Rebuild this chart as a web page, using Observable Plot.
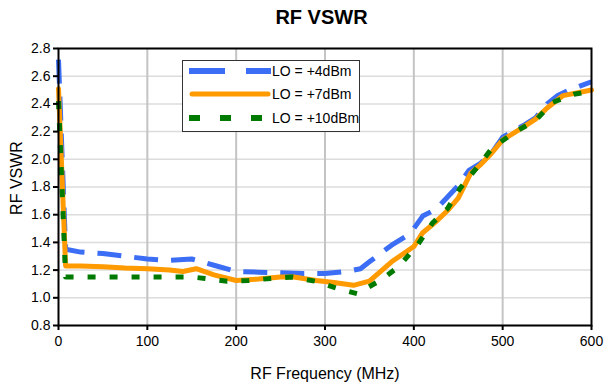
<!DOCTYPE html>
<html>
<head>
<meta charset="utf-8">
<script src="https://cdn.jsdelivr.net/npm/d3@7"></script>
<script src="https://cdn.jsdelivr.net/npm/@observablehq/plot@0.6"></script>
<style>
  html, body { margin: 0; padding: 0; background: #fff; }
  body { width: 605px; height: 385px; overflow: hidden; font-family: "Liberation Sans", Arial, sans-serif; }
  #wrap { position: relative; width: 605px; height: 385px; }
  #title { height: 40px; box-sizing: border-box; padding: 6px 14px 0 52px; text-align: center; font-weight: bold; font-size: 20px; line-height: 22px; color: #000; }
  #chart svg { display: block; font-family: "Liberation Sans", Arial, sans-serif; }
  #legend { position: absolute; left: 182px; top: 60px; width: 178px; height: 72px; box-sizing: border-box; border: 1px solid #333; background: #fff; }
  .row { position: absolute; left: 6px; height: 20px; display: flex; align-items: center; font-size: 14px; color: #000; white-space: nowrap; }
  .row svg { display: block; margin-right: 1px; }
</style>
</head>
<body>
<div id="wrap">
  <div id="title">RF VSWR</div>
  <div id="chart"></div>
  <div id="legend"></div>
</div>
<script>
// LO = +4dBm
const freq4 = [0, 8, 25, 50, 75, 100, 125, 150, 175, 200, 225, 250, 275, 300, 325, 340, 350, 375, 390, 400, 410, 425, 450, 462, 475, 487, 500, 525, 537, 550, 562, 575, 600];
const vswr4 = [2.72, 1.35, 1.33, 1.32, 1.30, 1.28, 1.27, 1.28, 1.235, 1.19, 1.185, 1.18, 1.175, 1.175, 1.19, 1.21, 1.26, 1.38, 1.44, 1.50, 1.59, 1.64, 1.81, 1.92, 1.97, 2.04, 2.16, 2.25, 2.30, 2.40, 2.46, 2.50, 2.56];
// LO = +7dBm
const freq7 = [0, 8, 25, 50, 75, 100, 125, 140, 155, 175, 200, 225, 250, 265, 290, 310, 332, 350, 375, 400, 410, 425, 438, 450, 464, 475, 487, 500, 525, 537, 550, 568, 600];
const vswr7 = [2.51, 1.23, 1.23, 1.225, 1.215, 1.21, 1.20, 1.19, 1.21, 1.165, 1.125, 1.135, 1.15, 1.15, 1.125, 1.11, 1.09, 1.12, 1.26, 1.37, 1.47, 1.55, 1.63, 1.72, 1.90, 1.96, 2.04, 2.14, 2.24, 2.29, 2.37, 2.46, 2.50];
// LO = +10dBm
const freq10 = [0, 8, 25, 50, 75, 100, 125, 150, 165, 190, 214, 239, 263, 289, 314, 336, 362, 383, 404, 421, 438, 452, 471, 488, 512, 537, 556, 580, 600];
const vswr10 = [2.42, 1.15, 1.15, 1.15, 1.15, 1.15, 1.15, 1.15, 1.14, 1.12, 1.125, 1.14, 1.15, 1.12, 1.067, 1.03, 1.125, 1.225, 1.38, 1.54, 1.645, 1.79, 1.94, 2.08, 2.19, 2.28, 2.41, 2.47, 2.49];

const seriesNames = ["LO = +4dBm", "LO = +7dBm", "LO = +10dBm"];
const seriesColors = ["#3b6ef5", "#ff9a00", "#007a00"];
const seriesDash = ["24,13", null, "8,14"];
const seriesWidth = [5, 5, 5];

const xTicks = [0, 100, 200, 300, 400, 500, 600];
const yTicks = [0.8, 1.0, 1.2, 1.4, 1.6, 1.8, 2.0, 2.2, 2.4, 2.6, 2.8];
const xGrid = [100, 200, 300, 400, 500];

const toRows = (fs, vs) => fs.map((f, i) => ({f, v: vs[i]}));
const rows = [toRows(freq4, vswr4), toRows(freq7, vswr7), toRows(freq10, vswr10)];

const lineMarks = rows.map((r, i) => Plot.line(r, {
  x: "f", y: "v", stroke: seriesColors[i], strokeWidth: seriesWidth[i],
  strokeDasharray: seriesDash[i] || undefined, strokeLinejoin: "round", strokeLinecap: i === 1 ? "round" : "butt"
}));

const plot = Plot.plot({
  width: 605,
  height: 345,
  marginLeft: 58,
  marginRight: 14,
  marginTop: 8,
  marginBottom: 60,
  style: {fontFamily: "'Liberation Sans', Arial, sans-serif", color: "#000"},
  x: {domain: [0, 600]},
  y: {domain: [0.8, 2.8]},
  marks: [
    Plot.gridY(yTicks, {stroke: "#dcdcdc", strokeOpacity: 1, strokeWidth: 1.5}),
    Plot.gridX(xGrid, {stroke: "#c4c4c4", strokeOpacity: 1, strokeWidth: 2}),
    ...lineMarks,
    Plot.frame({stroke: "#000", strokeWidth: 2}),
    Plot.axisX(xTicks, {tickSize: 5, tickPadding: 6, stroke: "#000", strokeWidth: 2, fill: "#000", fontSize: 14, label: null}),
    Plot.axisX([], {tickSize: 0, fill: "#000", fontSize: 16, label: "RF Frequency (MHz)", labelAnchor: "center", labelArrow: "none", labelOffset: 53}),
    Plot.axisY(yTicks, {tickSize: 5, tickPadding: 3, stroke: "#000", strokeWidth: 2, fill: "#000", fontSize: 14, tickFormat: d3.format(".1f"), label: null}),
    Plot.axisY([], {tickSize: 0, fill: "#000", fontSize: 16, label: "RF VSWR", labelAnchor: "center", labelArrow: "none", labelOffset: 48})
  ]
});
document.getElementById("chart").appendChild(plot);

// enforce text sizes and nudge the y-axis title upward, as in the reference
const tickTexts = new Set([...xTicks.map(String), ...yTicks.map(d3.format(".1f"))]);
d3.select(plot).selectAll("text").each(function () {
  const t = this.textContent.trim();
  const s = d3.select(this);
  if (tickTexts.has(t)) {
    s.style("font-size", "14px", "important");
  } else if (t === "RF Frequency (MHz)") {
    s.style("font-size", "16px", "important");
  } else if (t === "RF VSWR") {
    s.style("font-size", "16px", "important");
    const g = d3.select(this.parentNode);
    g.attr("transform", ((g.attr("transform") || "") + " translate(0,-9)").trim());
  }
});

// Legend
const legend = d3.select("#legend");
const rowTops = [0, 23, 47];
seriesNames.forEach((name, i) => {
  const row = legend.append("div").attr("class", "row").style("top", rowTops[i] + "px");
  const svg = row.append("svg").attr("width", 82).attr("height", 20);
  const dash = i === 0 ? "36,21" : (i === 2 ? "11,20" : null);
  const ln = svg.append("line").attr("x1", i === 1 ? 3 : 0).attr("x2", i === 1 ? 79 : 82)
    .attr("y1", 10).attr("y2", 10)
    .attr("stroke", seriesColors[i]).attr("stroke-width", i === 1 ? 5 : 6)
    .attr("stroke-linecap", i === 1 ? "round" : "butt");
  if (dash) ln.attr("stroke-dasharray", dash);
  row.append("span").text(name);
});
</script>
</body>
</html>
